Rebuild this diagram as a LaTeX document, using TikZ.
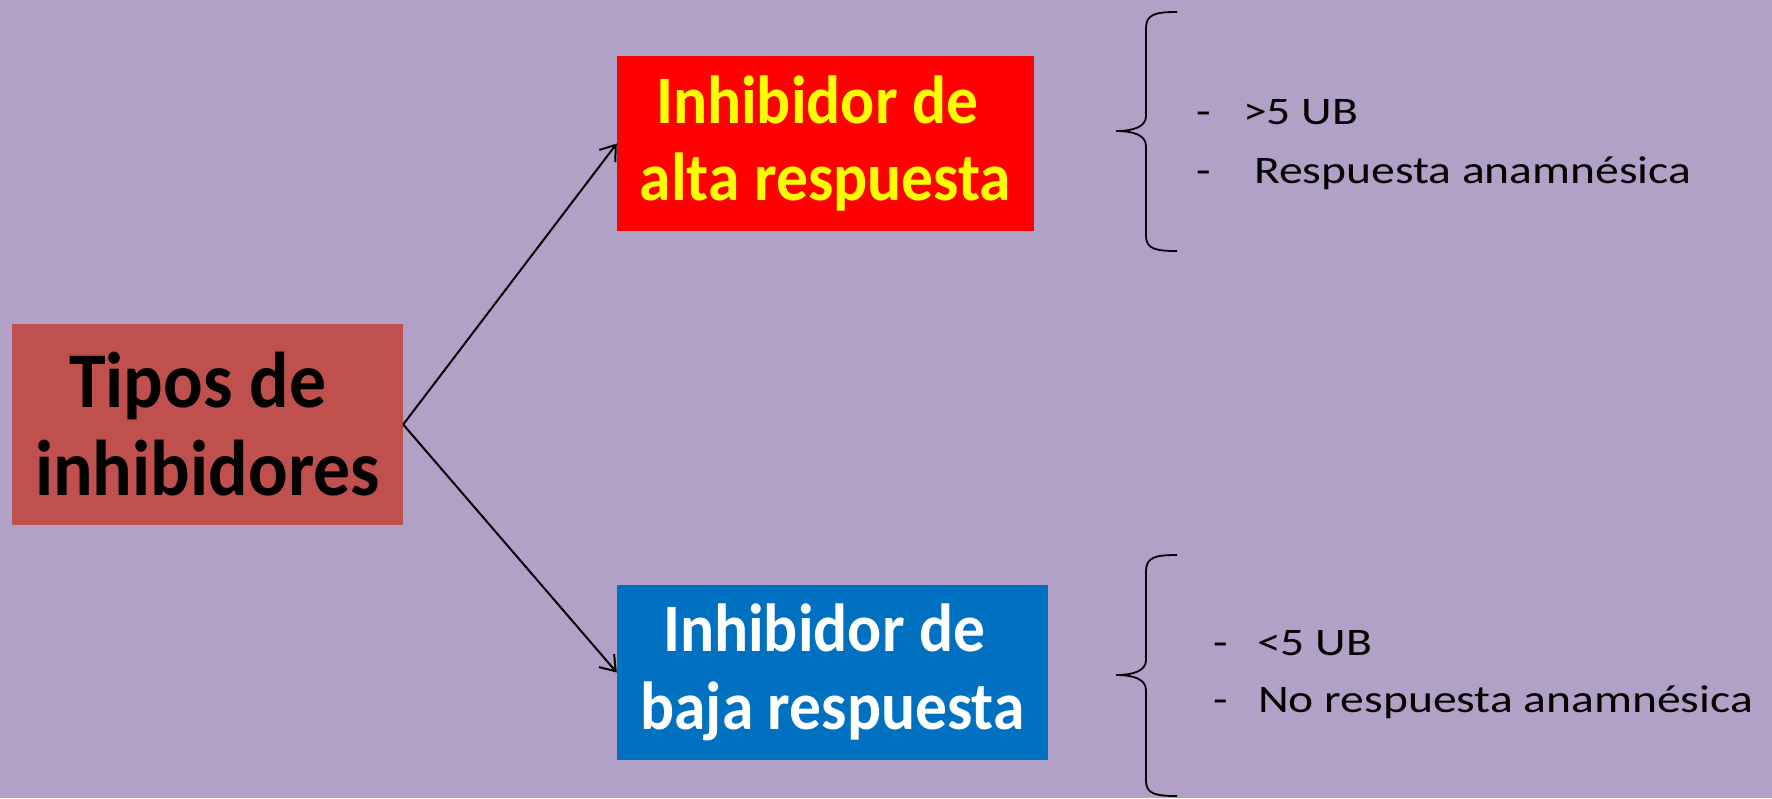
\documentclass[tikz,border=0pt]{standalone}
\usepackage{fontspec}
\setmainfont{Carlito}
\newfontfamily\boxfont[FakeStretch=0.935]{Carlito}
\newfontfamily\itemfont[FakeStretch=1.22]{Carlito}
\usetikzlibrary{arrows.meta}
\definecolor{bg}{HTML}{B2A1C7}
\definecolor{tiposred}{HTML}{C0504D}
\definecolor{altared}{HTML}{FF0000}
\definecolor{altayellow}{HTML}{FFFF00}
\definecolor{bajablue}{HTML}{0070C0}
\tikzset{
  catbox/.style={inner sep=0pt, align=center},
  conn/.style={draw=black, line width=2pt, -{Straight Barb[length=14pt,width=20pt,line width=2pt]}},
  brace/.style={draw=black, line width=1.8pt},
  itemtxt/.style={anchor=base west, inner sep=0pt, font=\itemfont\fontsize{39}{47}\selectfont, text=black}
}
\begin{document}
\begin{tikzpicture}[x=1pt,y=-1pt]
\useasboundingbox (0,0) rectangle (1772,798);
\fill[bg] (0,0) rectangle (1772,798);

\node[catbox, fill=tiposred, text=black, minimum width=391pt, minimum height=201pt,
  font=\boxfont\fontsize{79}{88}\selectfont\bfseries] (tipos) at (207.5,424.5)
  {Tipos de\hspace*{0.25em}\\inhibidores};

\node[catbox, fill=altared, text=altayellow, minimum width=417pt, minimum height=175pt,
  font=\boxfont\fontsize{68}{77}\selectfont\bfseries] (alta) at (825.5,143.5)
  {\rule{0pt}{0pt}\raisebox{0pt}{Inhibidor de\hspace*{0.25em}}\\alta respuesta};

\node[catbox, fill=bajablue, text=white, minimum width=431pt, minimum height=175pt,
  font=\boxfont\fontsize{68}{78}\selectfont\bfseries] (baja) at (832.5,672.5)
  {Inhibidor de\hspace*{0.25em}\\baja respuesta};

\draw[conn] (tipos.east) -- (alta.west);
\draw[conn] (tipos.east) -- (baja.west);

% upper brace
\draw[brace] (1177,12) .. controls (1156,12) and (1146,14) .. (1146,28)
  -- (1146,116) .. controls (1146,127) and (1133,131) .. (1116,131)
  .. controls (1133,131) and (1146,135) .. (1146,146)
  -- (1146,236) .. controls (1146,249) and (1156,251) .. (1177,251);
% lower brace
\draw[brace] (1177,555) .. controls (1156,555) and (1146,557) .. (1146,571)
  -- (1146,660) .. controls (1146,671) and (1133,675) .. (1116,675)
  .. controls (1133,675) and (1146,679) .. (1146,690)
  -- (1146,781) .. controls (1146,794) and (1156,796) .. (1177,796);

\node[itemtxt] (d1) at (1196,124) {-};
\node[itemtxt] (t1) at (1243,124) {>5 UB};
\node[itemtxt] (d2) at (1196,183) {-};
\node[itemtxt] (t2) at (1254,183) {Respuesta anamnésica};

\node[itemtxt] (d3) at (1213,655) {-};
\node[itemtxt] (t3) at (1257,655) {<5 UB};
\node[itemtxt] (d4) at (1213,712) {-};
\node[itemtxt] (t4) at (1258,712) {No respuesta anamnésica};
\end{tikzpicture}
\end{document}
